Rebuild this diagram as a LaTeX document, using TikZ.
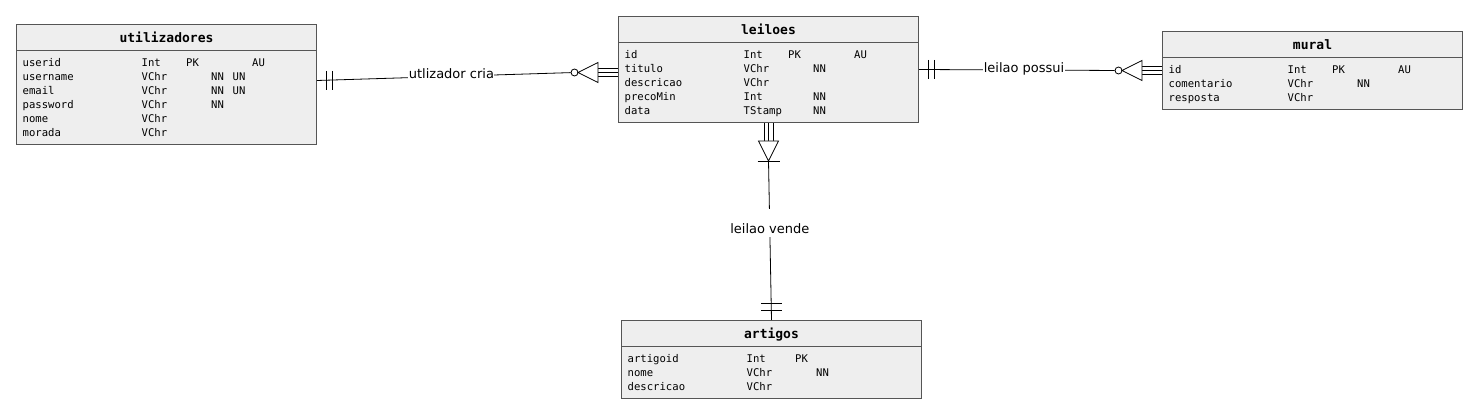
\documentclass[tikz,border=0pt]{standalone}
\usepackage{fontspec}
\setmainfont{DejaVu Sans}
\setmonofont{DejaVu Sans Mono}
\usetikzlibrary{calc}
\definecolor{boxgray}{HTML}{555555}
\definecolor{boxfill}{HTML}{EEEEEE}

\begin{document}
\begin{tikzpicture}[x=1pt,y=-1pt,
	tablebox/.style={draw=boxgray, fill=boxfill, line width=1pt, minimum width=300pt, anchor=north west, inner sep=0pt},
	tabletitle/.style={anchor=base, inner sep=0pt, font=\fontsize{13}{15}\selectfont\ttfamily\bfseries},
	rowtext/.style={anchor=base west, inner sep=0pt, font=\fontsize{10.6}{12}\selectfont\ttfamily},
	rel/.style={line width=0.8pt},
	relname/.style={anchor=base, fill=white, inner xsep=0.5pt, inner ysep=1pt, font=\fontsize{13}{15}\selectfont},
	zerocircle/.style={circle, draw, line width=0.8pt, fill=white, inner sep=0pt, minimum size=7pt}]
	\useasboundingbox (0,0) rectangle (1477,419);
	
	% tables
	\node[tablebox, minimum height=120pt] (utilizadores) at (16,24) {};
	\node[tablebox, minimum height=106pt] (leiloes) at (618,16) {};
	\node[tablebox, minimum height=78pt] (mural) at (1162,31) {};
	\node[tablebox, minimum height=78pt] (artigos) at (621,320) {};
	
	\foreach \tab in {utilizadores,leiloes,mural,artigos}
	{
		\draw[boxgray, line width=1pt] ([yshift=-26.5pt]\tab.north west) -- ([yshift=-26.5pt]\tab.north east);
		\node[tabletitle] at ([yshift=-19pt]\tab.north) {\tab};
	}
	
	\begin{scope}[shift={(utilizadores.north west)}]
		\foreach \n/\ty/\pk/\nn/\un/\au [count=\i from 0] in {userid/Int/PK/{}/{}/AU, username/VChr/{}/NN/UN/{}, email/VChr/{}/NN/UN/{}, password/VChr/{}/NN/{}/{}, nome/VChr/{}/{}/{}/{}, morada/VChr/{}/{}/{}/{}}
		{
			\node[rowtext] at (6.5,{42.5+14*\i}) {\n};
			\node[rowtext] at (125.5,{42.5+14*\i}) {\ty};
			\node[rowtext] at (170,{42.5+14*\i}) {\pk};
			\node[rowtext] at (195,{42.5+14*\i}) {\nn};
			\node[rowtext] at (216.5,{42.5+14*\i}) {\un};
			\node[rowtext] at (236,{42.5+14*\i}) {\au};
		}
	\end{scope}
	
	\begin{scope}[shift={(leiloes.north west)}]
		\foreach \n/\ty/\pk/\nn/\au [count=\i from 0] in {id/Int/PK/{}/AU, titulo/VChr/{}/NN/{}, descricao/VChr/{}/{}/{}, precoMin/Int/{}/NN/{}, data/TStamp/{}/NN/{}}
		{
			\node[rowtext] at (6.5,{42.5+14*\i}) {\n};
			\node[rowtext] at (125.5,{42.5+14*\i}) {\ty};
			\node[rowtext] at (170,{42.5+14*\i}) {\pk};
			\node[rowtext] at (195,{42.5+14*\i}) {\nn};
			\node[rowtext] at (236,{42.5+14*\i}) {\au};
		}
	\end{scope}
	
	\begin{scope}[shift={(mural.north west)}]
		\foreach \n/\ty/\pk/\nn/\au [count=\i from 0] in {id/Int/PK/{}/AU, comentario/VChr/{}/NN/{}, resposta/VChr/{}/{}/{}}
		{
			\node[rowtext] at (6.5,{42.5+14*\i}) {\n};
			\node[rowtext] at (125.5,{42.5+14*\i}) {\ty};
			\node[rowtext] at (170,{42.5+14*\i}) {\pk};
			\node[rowtext] at (195,{42.5+14*\i}) {\nn};
			\node[rowtext] at (236,{42.5+14*\i}) {\au};
		}
	\end{scope}
	
	\begin{scope}[shift={(artigos.north west)}]
		\foreach \n/\ty/\pk/\nn [count=\i from 0] in {artigoid/Int/PK/{}, nome/VChr/{}/NN, descricao/VChr/{}/{}}
		{
			\node[rowtext] at (6.5,{42.5+14*\i}) {\n};
			\node[rowtext] at (125.5,{42.5+14*\i}) {\ty};
			\node[rowtext] at (174,{42.5+14*\i}) {\pk};
			\node[rowtext] at (195,{42.5+14*\i}) {\nn};
		}
	\end{scope}
	
	% utilizadores -- leiloes
	\coordinate (criaA) at ([yshift=4pt]utilizadores.east);
	\coordinate (criaB) at ([yshift=-3pt]leiloes.west);
	\node[zerocircle] (criaO) at ([xshift=-43.5pt]criaB) {};
	\draw[rel] (criaA) -- node[relname, pos=0.53, yshift=-2.5pt] {utlizador cria} (criaO);
	\draw[rel] (criaA) ++(9,-9.5) -- ++(0,19);
	\draw[rel] (criaA) ++(15.5,-9.5) -- ++(0,19);
	\foreach \d in {-4,0,4}
		\draw[rel] (criaB) ++(0,\d) -- ++(-20,0);
	\draw[rel, fill=white] (criaB) ++(-20,-10) -- ++(-20,10) -- ++(20,10) -- cycle;
	
	% leiloes -- mural
	\node[zerocircle] (possuiO) at ([xshift=-43.5pt]mural.west) {};
	\draw[rel] (leiloes.east) -- node[relname, pos=0.537, yshift=-2.5pt] {leilao possui} (possuiO);
	\draw[rel] (leiloes.east) ++(9,-9.5) -- ++(0,19);
	\draw[rel] (leiloes.east) ++(15.5,-9.5) -- ++(0,19);
	\foreach \d in {-4,0,4}
		\draw[rel] (mural.west) ++(0,\d) -- ++(-20,0);
	\draw[rel, fill=white] (mural.west) ++(-20,-10) -- ++(-20,10) -- ++(20,10) -- cycle;
	
	% leiloes -- artigos
	\coordinate (vendeA) at ([yshift=-38pt]leiloes.south);
	\foreach \d in {-4.5,0,4.5}
		\draw[rel] (leiloes.south) ++(\d,0) -- ++(0,18);
	\draw[rel, fill=white] (leiloes.south) ++(-10,18) -- ++(10,20) -- ++(10,-20) -- cycle;
	\draw[rel] (vendeA) ++(-11,0) -- ++(22,0);
	\draw[rel] (vendeA) -- node[relname, pos=0.455, text height=24pt, text depth=3.5pt, inner ysep=0pt] {leilao vende} (artigos.north);
	\draw[rel] (artigos.north) ++(-10.5,-10) -- ++(21,0);
	\draw[rel] (artigos.north) ++(-10.5,-16.5) -- ++(21,0);
	
\end{tikzpicture}
\end{document}
